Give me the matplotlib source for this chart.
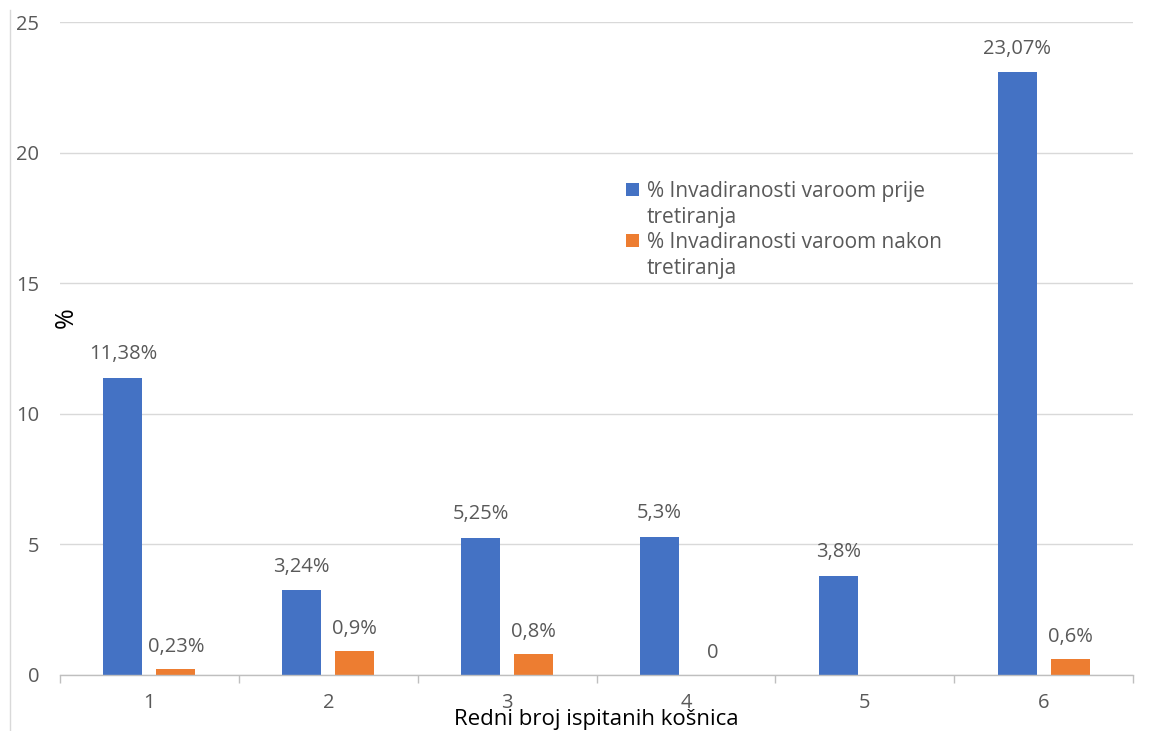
import matplotlib
matplotlib.use("Agg")
import matplotlib.pyplot as plt
from matplotlib.patches import Patch
from matplotlib.lines import Line2D
import numpy as np

categories = ["1", "2", "3", "4", "5", "6"]
before = [11.38, 3.24, 5.25, 5.3, 3.8, 23.07]
after = [0.23, 0.9, 0.8, 0.0, 0.0, 0.6]
before_labels = ["11,38%", "3,24%", "5,25%", "5,3%", "3,8%", "23,07%"]
after_labels = ["0,23%", "0,9%", "0,8%", "0", "", "0,6%"]
yticks = [0, 5, 10, 15, 20, 25]
series_names = ["% Invadiranosti varoom prije", "tretiranja",
                "% Invadiranosti varoom nakon", "tretiranja"]

BLUE = "#4472C4"
ORANGE = "#ED7D31"
GRAY = "#595959"

plt.rcParams['font.family'] = ['Open Sans', 'DejaVu Sans']

fig = plt.figure(figsize=(11.71, 7.31), dpi=100)
ax = fig.add_axes([60/1171, 1-675/731, (1133-60)/1171, (675-22)/731])

x = np.arange(1, len(categories) + 1)
off = 0.148
w = 0.218
ax.bar(x - off, before, width=w, color=BLUE, zorder=3)
ax.bar(x + off, after, width=w, color=ORANGE, zorder=3)

for xi, v, lab in zip(x - off, before, before_labels):
    ax.annotate(lab, (xi, v), xytext=(0, 17), textcoords="offset points",
                ha="center", va="center", fontsize=14.5, color=GRAY)
for xi, v, lab in zip(x + off, after, after_labels):
    if lab:
        ax.annotate(lab, (xi, v), xytext=(0, 16), textcoords="offset points",
                    ha="center", va="center", fontsize=14.5, color=GRAY)

ax.set_xlim(0.5, 6.5)
ax.set_ylim(0, 25)
ax.set_yticks(yticks)
ax.set_yticklabels([str(t) for t in yticks])
ax.set_xticks(x)
ax.set_xticklabels(categories)
ax.set_xticks(np.arange(0.5, 7, 1), minor=True)
ax.tick_params(axis="x", which="major", length=0, pad=13, labelsize=14.5, labelcolor=GRAY)
ax.tick_params(axis="x", which="minor", length=6, color="#bfbfbf", width=1)
ax.tick_params(axis="y", length=0, pad=15, labelsize=14.5, labelcolor=GRAY)

ax.grid(axis="y", color="#d9d9d9", linewidth=1, zorder=0)
for s in ["top", "right", "left"]:
    ax.spines[s].set_visible(False)
ax.spines["bottom"].set_color("#bfbfbf")
ax.spines["bottom"].set_linewidth(1)
ax.spines["bottom"].set_zorder(4)

ax.set_xlabel("Redni broj ispitanih košnica", fontsize=16, color="black", labelpad=-3)
ax.text(0.0056, 0.547, "%", transform=ax.transAxes, rotation=90, fontsize=18,
        color="black", ha="center", va="center")

handles = [Patch(facecolor=BLUE), Patch(facecolor="none", edgecolor="none"),
           Patch(facecolor=ORANGE), Patch(facecolor="none", edgecolor="none")]
ax.legend(handles, series_names, loc="upper left",
          bbox_to_anchor=(626/1171, 1-181/731), bbox_transform=fig.transFigure,
          frameon=False, fontsize=15, labelcolor=GRAY,
          handlelength=0.6, handleheight=0.6, handletextpad=0.4,
          labelspacing=0.22, borderaxespad=0, borderpad=0)

fig.add_artist(Line2D([10/1171, 10/1171], [0, 1-10/731], transform=fig.transFigure,
                      color="#d9d9d9", linewidth=1))

fig.savefig("out.png", dpi=100, facecolor="white")
